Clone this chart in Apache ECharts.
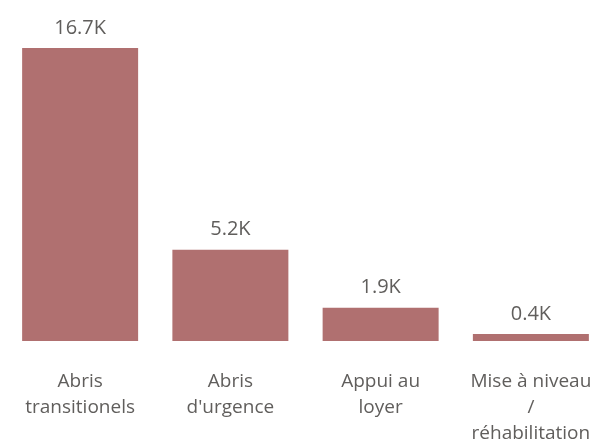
<!DOCTYPE html>
<html><head><meta charset="utf-8">
<script src="https://cdn.jsdelivr.net/npm/echarts@6/dist/echarts.min.js"></script>
<style>html,body{margin:0;padding:0;background:#fff}#c{width:599px;height:443px}</style>
</head><body><div id="c"></div>
<script>
const categories = ["Abris\ntransitionels", "Abris\nd'urgence", "Appui au\nloyer", "Mise à niveau\n/\nréhabilitation"];
const values = [16700, 5200, 1900, 400];

const chart = echarts.init(document.getElementById('c'), null, {renderer: 'canvas'});
chart.setOption({
  animation: false,
  grid: {left: 5, width: 601, top: 48, bottom: 102, containLabel: false, outerBoundsMode: 'none'},
  xAxis: {
    type: 'category', data: categories,
    axisLine: {show: false}, axisTick: {show: false},
    axisLabel: {interval: 0, margin: 28, fontFamily: 'Open Sans', fontSize: 19, color: '#605e5c', lineHeight: 26}
  },
  yAxis: {type: 'value', min: 0, max: 16700, show: false, splitLine: {show: false}},
  series: [{
    type: 'bar', data: values, barWidth: 116,
    itemStyle: {color: '#b07070'},
    label: {show: true, position: 'top', distance: 10, fontFamily: 'Open Sans', fontSize: 20, color: '#605e5c',
      formatter: p => (p.value / 1000).toFixed(1) + 'K'}
  }]
});
</script></body></html>
